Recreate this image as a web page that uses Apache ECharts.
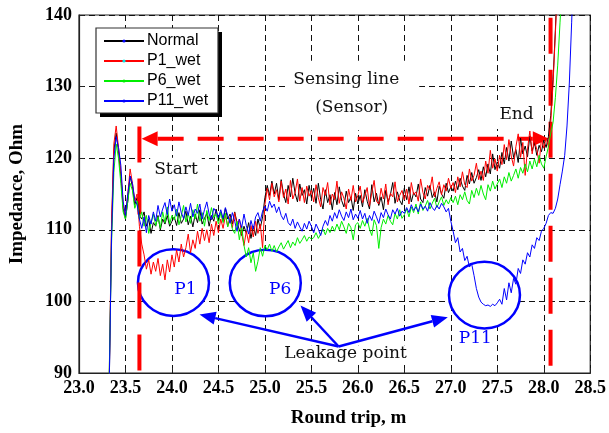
<!DOCTYPE html>
<html>
<head>
<meta charset="utf-8">
<script src="https://cdn.jsdelivr.net/npm/echarts@6/dist/echarts.min.js"></script>
<style>
html,body{margin:0;padding:0;background:#fff;}
#chart{width:609px;height:433px;}
</style>
</head>
<body>
<div id="chart"></div>
<script>
// Sampling positions along the cable (round trip, m)
const xStart = 23.3;
const xStep = 0.025;

const seriesNames = ['Normal', 'P1_wet', 'P6_wet', 'P11_wet'];

// Impedance (Ohm) at each sampling position
const normal = [
  80,88,110,121,123.5,121,117.5,113,111.5,114,117.5,116,113.5,114.5,112,111.5,112.5,110.5,111.5,109.5,
  111,110.5,112,110,111.5,110.8,112,110.5,111.2,
  111.8,110.6,112.4,110.9,111.5,112.6,110.7,111.9,110.4,112.2,111,112.8,110.8,111.6,112.3,110.5,112,111.2,112.9,111.4,
  112.5,111.2,113,111.5,112.2,110.8,112.5,111,110,109.2,110.5,109.5,
  111,108.8,110.5,109.2,111.5,110.2,111.8,
  114.5,116.2,114.8,116.8,115,
  116.5,114.2,117,115,113.8,116.2,114.6,117.2,115.1,113.9,116.4,114.8,115.6,113.6,116.2,114.5,
  115.8,113.7,116.5,114.2,112.9,115.6,113.8,114.9,112.8,115.2,113.5,116,114.1,113.2,115.4,113.8,114.6,112.7,115.1,113.6,
  114.8,113.2,115.6,114,112.9,116.3,113.9,115.1,113.4,114.6,112.8,115.5,113.9,114.9,116.6,113.7,115.3,114.1,113.5,115.8,
  114.2,116,113.9,115.2,114.6,116.4,114.3,113.8,115.9,114.7,116.2,114.5,115.3,113.9,116.1,115,114.4,116.5,115.2,116,
  115.4,116.8,115.6,117.2,116.1,115.5,117.6,116.4,118,116.5,117.3,118.4,116.9,118.8,117.4,119.2,117.8,120.6,118.4,119.5,
  118.6,120.8,119.2,121.5,119.6,122.4,120.1,121.2,119.4,122.8,120.6,121.7,120.2,123.1,121,122.2,120.4,121.8,120.9,122.5,
  121.5,123,126,131,138,146,
  null,null,null,null,null,null,null
];

const p1Wet = [
  80,89,111,122,124.5,121.5,118,113.5,112,115,118.5,116.5,114,115,110.5,
  108,106.5,104.5,105.8,103.8,105.5,104.2,106,103.6,105.2,103,105.8,104.1,106.5,104.8,107.2,105.5,108,106.2,107.5,
  109.4,106.8,108.6,107.4,109.8,108,110.2,108.5,110,108.2,110.8,109.2,111.2,109.6,111.5,110.2,112,110.5,111.8,110.3,
  112.4,110.6,111.5,109.5,107.8,109.8,108.2,110.6,109,111.2,109.5,110.8,107.5,
  113.5,115.8,114.2,116.5,114.6,
  115.6,113.9,116.8,114.5,115.7,113.6,116.9,114.3,115.2,117.1,114,115.9,113.8,116.1,114.7,115.5,
  113.9,116.3,114.5,113.2,115.9,114.8,116.6,113.5,115,114.2,116.8,113.7,115.3,114.4,112.9,115.7,114.1,116.2,113.9,114.8,
  116.1,113.8,114.7,115.9,113.3,115.2,116.9,114,113.6,115.8,114.3,116.4,113.5,115.1,114.6,116.7,113.9,114.8,115.5,114.2,
  115.7,113.6,116.6,114.9,115.3,114,117.1,115.2,114.3,116.2,115.6,117.4,114.6,115.8,116.7,114.9,116.3,115.4,117.2,115.8,
  116.6,115.2,117.4,116,118.1,116.3,115.9,118.5,116.8,117.6,119.3,117,118.2,116.9,119.6,117.9,121.1,118.6,119.9,118.2,
  120.4,119.1,121.9,119.8,122.6,120.3,118.9,121.6,123.4,120.1,122.2,117.6,121.3,123.8,120.6,122.5,121.2,119.3,122.7,121.4,
  122.8,121.6,125,130.5,137.5,145,
  null,null,null,null,null,null,null
];

const p6Wet = [
  80,90,108,118,122,120,116.5,112.5,111.5,114,116.5,115.5,113,114,111.5,112.5,110.5,112,109.5,111,
  112.2,110.6,111.8,110.2,112.5,111,113.2,110.8,112,111.4,112.9,110.7,111.9,113.4,111.1,112.3,110.9,112.8,111.5,113.6,
  111.2,112.4,110.5,112.7,111.3,113.1,111.7,112.2,110.8,
  112.5,111,112.3,110.4,111.6,110.1,109.5,111.2,108.6,110.5,107.8,
  106.2,107.5,105.4,106.8,104.2,105.6,107.5,106.3,107.8,
  107.2,108,107,107.8,106.9,107.6,108.2,107.3,107.9,108.5,107.5,108.3,107.8,108.9,108.1,108.6,109.2,108.4,109,108.7,
  108.9,109.6,108.8,109.4,110.1,109.3,110.2,109.6,110.5,109.8,110.8,110,111.2,110.4,109.5,110.9,110.3,108.6,110.7,111,
  110.2,111.3,110.5,111.6,110.1,109.2,111.4,110.6,107.4,110.3,111.5,110.8,112,111.2,110.7,112.3,111.5,112.8,111.6,112.1,
  112.9,111.8,113.2,112.4,113.6,112.2,113.9,112.7,113.3,114.1,112.9,113.7,114.4,113.1,113.9,114.6,113.4,114.2,113.6,114.5,
  113.8,114.7,113.5,114.9,114.2,115.3,114.1,113.6,115.5,114.5,115.8,114.8,116.2,115,114.2,116.3,115.4,116.8,115.7,116.4,
  117.1,115.9,117.4,116.5,118,116.8,117.6,118.5,117.2,118.7,117.9,119.2,118.1,119.6,118.5,119.9,118.8,120.4,119.2,118.6,
  120.2,121.6,123.5,125,128.5,133,139,145,
  null,null,null,null,null
];

const p11Wet = [
  80,88,109,120,123,121.5,119,114,112,115,117.5,116.5,114.2,113.5,111.5,110.2,111.8,109.6,112,110.8,
  112.5,111.2,113.4,111.8,112.9,113.8,112.1,114.3,112.6,113.5,111.9,113.9,112.4,111.6,113.2,112,113.7,111.8,112.9,112.3,
  113.6,111.5,112.8,113.9,112.2,111.4,113,112.5,111.7,
  112.8,111.6,113.1,112,110.9,112.4,111.2,109.8,111.5,110.3,112.2,110.6,109.4,111.3,110.1,111.8,112.4,111.2,112.6,
  113.3,112.6,114,113.1,113.6,112.4,113.2,112,111.4,112.3,111,110.6,111.5,110.2,111.1,110.4,109.8,110.9,110.1,111.2,110.5,
  109.6,110.8,110.1,109.2,110.5,111.3,110.6,112,111.2,112.4,111.6,112.8,111.9,111.3,112.5,111.7,112.9,111.4,112.2,111.6,
  112.7,111.5,112.3,110.9,112,111.3,112.6,111.8,110.9,112.4,111.7,112.9,112.1,111.5,112.8,112.2,113,111.9,112.6,112.3,
  113.1,112.4,113.5,112.7,113.2,112.5,113.6,112.9,113.3,112.6,113.8,113.1,112.7,113.4,112.9,113.7,113.2,112.5,113,111.2,
  109.8,108.2,108.9,106.9,107.4,105.7,106.3,104.8,105.2,103.6,101.8,100.6,99.9,99.6,99.4,99.5,99.3,99.6,99.4,99.8,
  100.3,99.6,101.8,100.2,102.6,101.2,103.2,102.4,104.6,103.9,105.8,105.2,106.8,106.2,107.9,107.4,108.9,108.5,109.8,110.2,
  110.9,112,112.4,112.3,113,114.3,116.3,118.2,120.4,124.5,130.5,139,148
];

// Annotation anchors, in axis units
const sensingBox = [[25.25, 133.6], [26.66, 123.9]];
const sensingText = [[25.875, 131.0], [25.934, 127.1]];
const startText = [24.043, 118.45];
const endText = [27.707, 126.1];
const spanArrow = {y: 122.73, x0: 23.674, x1: 28.054};
const startLine = {x: 23.65, y0: 124.44, y1: 90};
const endLine = {x: 28.073, y0: 139.6, y1: 90};
const leakRings = [
  {c: [24.016, 102.62], label: 'P1', text: [24.144, 101.6]},
  {c: [25.004, 102.58], label: 'P6', text: [25.165, 101.6]},
  {c: [27.362, 100.88], label: 'P11', text: [27.264, 94.78]}
];
const leakText = [25.868, 92.69];
const leakFrom = [25.793, 93.7];
const leakTips = [[24.297, 98.16], [25.383, 99.42], [26.968, 97.8]];

const seriesColors = ['#000000', '#ff0000', '#00ee00', '#0000ff'];
const dotColors = ['#0000ff', '#00e5e5', '#00ee00', '#0000ff'];
const seriesValues = [normal, p1Wet, p6Wet, p11Wet];

function toPairs(values) {
  return values.map((v, i) => [+(xStart + i * xStep).toFixed(3), v]);
}

const serifBold = 'Liberation Serif';
const chart = echarts.init(document.getElementById('chart'), null, {renderer: 'canvas'});

chart.setOption({
  animation: false,
  backgroundColor: '#fff',
  grid: {left: 77, right: 17, top: 15, bottom: 59, show: true, borderColor: '#222', borderWidth: 1.2},
  legend: {
    orient: 'vertical', left: 103, top: 31, padding: 0, itemGap: 0,
    itemWidth: 40, itemHeight: 4, z: 6,
    textStyle: {fontFamily: 'Liberation Sans', fontSize: 16, color: '#000', lineHeight: 20, padding: [0, 0, 0, -2]},
    data: seriesNames
  },
  xAxis: {
    type: 'value', min: 23, max: 28.5, interval: 0.5,
    axisLine: {lineStyle: {color: '#222', width: 1.2}},
    axisTick: {inside: true, length: 5, lineStyle: {color: '#222'}},
    axisLabel: {formatter: v => v.toFixed(1), fontFamily: serifBold, fontWeight: 'bold', fontSize: 18, color: '#000', margin: 6},
    splitLine: {show: true, lineStyle: {color: '#111', width: 1, type: [6, 4]}},
    name: 'Round trip, m', nameLocation: 'middle', nameGap: 36,
    nameTextStyle: {fontFamily: serifBold, fontWeight: 'bold', fontSize: 19, color: '#000', padding: [0, 0, 0, 28]}
  },
  yAxis: {
    type: 'value', min: 90, max: 140, interval: 10,
    axisLine: {lineStyle: {color: '#222', width: 1.2}},
    axisTick: {inside: true, length: 5, lineStyle: {color: '#222'}},
    axisLabel: {fontFamily: serifBold, fontWeight: 'bold', fontSize: 18, color: '#000', margin: 7},
    splitLine: {show: true, lineStyle: {color: '#111', width: 1, type: [6, 4]}},
    name: 'Impedance, Ohm', nameLocation: 'middle', nameGap: 52,
    nameTextStyle: {fontFamily: serifBold, fontWeight: 'bold', fontSize: 19, color: '#000'}
  },
  series: seriesNames.map((name, k) => ({
    name: name,
    type: 'line',
    data: toPairs(seriesValues[k]),
    showSymbol: false,
    symbol: 'circle',
    connectNulls: false,
    clip: true,
    z: 2,
    lineStyle: {color: seriesColors[k], width: 1},
    itemStyle: {color: dotColors[k]}
  }))
});

function P(p) { return chart.convertToPixel({xAxisIndex: 0, yAxisIndex: 0}, p); }

function headPoints(tip, from, len, half) {
  const dx = tip[0] - from[0], dy = tip[1] - from[1];
  const d = Math.hypot(dx, dy);
  const ux = dx / d, uy = dy / d;
  const bx = tip[0] - ux * len, by = tip[1] - uy * len;
  return {pts: [tip, [bx - uy * half, by + ux * half], [bx + uy * half, by - ux * half]], base: [bx, by]};
}

const g = [];
const serifFont = '17px "DejaVu Serif"';
const red = '#ff0000';
const blue = '#0000ff';

// legend frame with hard drop shadow
g.push({type: 'rect', z: 5, shape: {x: 100, y: 32, width: 122, height: 85}, style: {fill: '#000'}});
g.push({type: 'rect', z: 5, shape: {x: 96, y: 28, width: 122, height: 85}, style: {fill: '#fff', stroke: '#333', lineWidth: 1.2}});

// sensing line label block
const sb0 = P(sensingBox[0]), sb1 = P(sensingBox[1]);
g.push({type: 'rect', z: 1, shape: {x: sb0[0], y: sb0[1], width: sb1[0] - sb0[0], height: sb1[1] - sb0[1]}, style: {fill: '#fff'}});
['Sensing line', '(Sensor)'].forEach((t, i) => {
  const p = P(sensingText[i]);
  g.push({type: 'text', z: 1, x: p[0], y: p[1], style: {text: t, font: serifFont, fill: '#111', align: 'center', verticalAlign: 'middle', textAlign: 'center', textVerticalAlign: 'middle'}});
});

// Start / End labels
[[startText, 'Start', [3, 4]], [endText, 'End', [6, 8]]].forEach(([pos, t, pad]) => {
  const p = P(pos);
  g.push({type: 'text', z: 1, x: p[0], y: p[1], style: {text: t, font: serifFont, fill: '#111', align: 'center', verticalAlign: 'middle', textAlign: 'center', textVerticalAlign: 'middle', backgroundColor: '#fff', padding: pad}});
});

// red dashed span arrow with heads at both ends
const aL = P([spanArrow.x0, spanArrow.y]), aR = P([spanArrow.x1, spanArrow.y]);
const hL = headPoints(aL, aR, 16, 7.5), hR = headPoints(aR, aL, 16, 7.5);
g.push({type: 'line', z: 1.5, shape: {x1: hL.base[0], y1: hL.base[1], x2: hR.base[0], y2: hR.base[1]}, style: {stroke: red, lineWidth: 4, lineDash: [26, 14]}});
g.push({type: 'polygon', z: 1.5, shape: {points: hL.pts}, style: {fill: red}});
g.push({type: 'polygon', z: 1.5, shape: {points: hR.pts}, style: {fill: red}});

// red dashed start / end markers
[startLine, endLine].forEach(l => {
  const a = P([l.x, l.y0]), b = P([l.x, l.y1]);
  g.push({type: 'line', z: 1.5, shape: {x1: a[0], y1: a[1], x2: b[0], y2: b[1]}, style: {stroke: red, lineWidth: 4, lineDash: [36, 16]}});
});

// leakage rings and labels
leakRings.forEach(r => {
  const c = P(r.c);
  g.push({type: 'ellipse', z: 1, shape: {cx: c[0], cy: c[1], rx: 35.5, ry: 33.3}, style: {fill: '#fff', stroke: blue, lineWidth: 2.5}});
  const t = P(r.text);
  g.push({type: 'text', z: 3, x: t[0], y: t[1], style: {text: r.label, font: serifFont, fill: blue, align: 'center', verticalAlign: 'middle', textAlign: 'center', textVerticalAlign: 'middle'}});
});

// leakage point label and pointer arrows
const lt = P(leakText);
g.push({type: 'text', z: 1, x: lt[0], y: lt[1], style: {text: 'Leakage point', font: serifFont, fill: '#111', align: 'center', verticalAlign: 'middle', textAlign: 'center', textVerticalAlign: 'middle', backgroundColor: '#fff', padding: [0, 2]}});
const from = P(leakFrom);
leakTips.forEach(tp => {
  const tip = P(tp);
  const h = headPoints(tip, from, 16, 6.5);
  g.push({type: 'line', z: 3, shape: {x1: from[0], y1: from[1], x2: h.base[0], y2: h.base[1]}, style: {stroke: blue, lineWidth: 2.5}});
  g.push({type: 'polygon', z: 3, shape: {points: h.pts}, style: {fill: blue}});
});

chart.setOption({graphic: {elements: g}});
</script>
</body>
</html>
